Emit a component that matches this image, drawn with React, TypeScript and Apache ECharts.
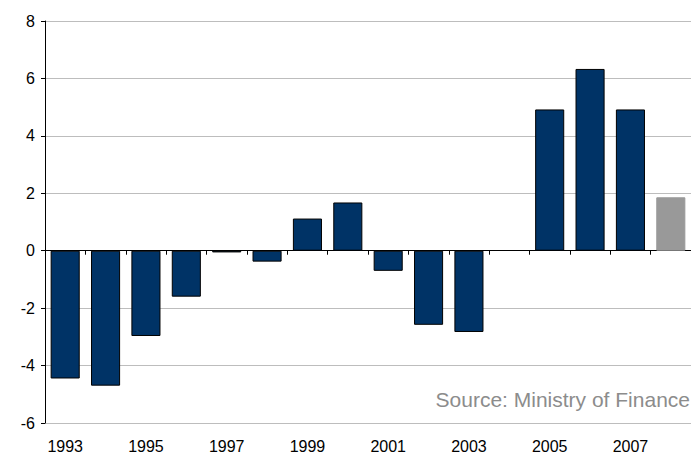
import React, { useEffect, useRef } from "react";
import * as echarts from "echarts";

const years = ["1993","1994","1995","1996","1997","1998","1999","2000","2001","2002","2003","2004","2005","2006","2007","2008"];
const values: (number | null)[] = [-4.45, -4.7, -2.97, -1.6, -0.06, -0.38, 1.12, 1.68, -0.7, -2.58, -2.83, null, 4.92, 6.33, 4.92, 1.86];
const isForecast = [false,false,false,false,false,false,false,false,false,false,false,false,false,false,false,true];
const yTicks = { min: -6, max: 8, interval: 2 };
const sourceText = "Source: Ministry of Finance";

export default function App() {
  const ref = useRef<HTMLDivElement>(null);
  useEffect(() => {
    document.body.style.margin = "0";
    if (!ref.current) return;
    const chart = echarts.init(ref.current, undefined, { renderer: "svg" });
    const font = "Arial, 'Liberation Sans', sans-serif";
    chart.setOption({
      animation: false,
      grid: { left: 45, right: 0, top: 21, bottom: 29, containLabel: false },
      xAxis: [
        {
          type: "category",
          data: years,
          position: "bottom",
          axisLine: { show: false, onZero: false },
          axisTick: { show: false },
          axisLabel: { interval: 1, color: "#000", fontSize: 16, fontFamily: font, margin: 15 },
          splitLine: { show: false },
        },
        {
          type: "category",
          data: years,
          position: "bottom",
          axisLine: { show: true, onZero: true, lineStyle: { color: "#000", width: 1 } },
          axisTick: { show: true, inside: false, length: 4, lineStyle: { color: "#000" } },
          axisLabel: { show: false },
          splitLine: { show: false },
        },
      ],
      yAxis: {
        type: "value",
        min: yTicks.min,
        max: yTicks.max,
        interval: yTicks.interval,
        axisLine: { show: true, lineStyle: { color: "#000", width: 1 } },
        axisTick: { show: true, length: 4, lineStyle: { color: "#000" } },
        axisLabel: { color: "#000", fontSize: 16, fontFamily: font, margin: 10 },
        splitLine: { show: true, lineStyle: { color: "#bdbdbd", width: 1 } },
      },
      series: [
        {
          type: "bar",
          xAxisIndex: 0,
          barCategoryGap: "28%",
          data: values.map((v, i) => ({
            value: v,
            itemStyle: {
              color: isForecast[i] ? "#999999" : "#003366",
              borderColor: isForecast[i] ? "#999999" : "#000",
              borderWidth: 1,
            },
          })),
        },
      ],
      graphic: [
        {
          type: "text",
          right: 1,
          top: 389,
          style: { text: sourceText, fill: "#8c8c8c", fontSize: 21, fontFamily: font },
        },
      ],
    });
    return () => chart.dispose();
  }, []);
  return <div ref={ref} style={{ position: "absolute", left: 0, top: 0, width: 691, height: 454 }} />;
}
